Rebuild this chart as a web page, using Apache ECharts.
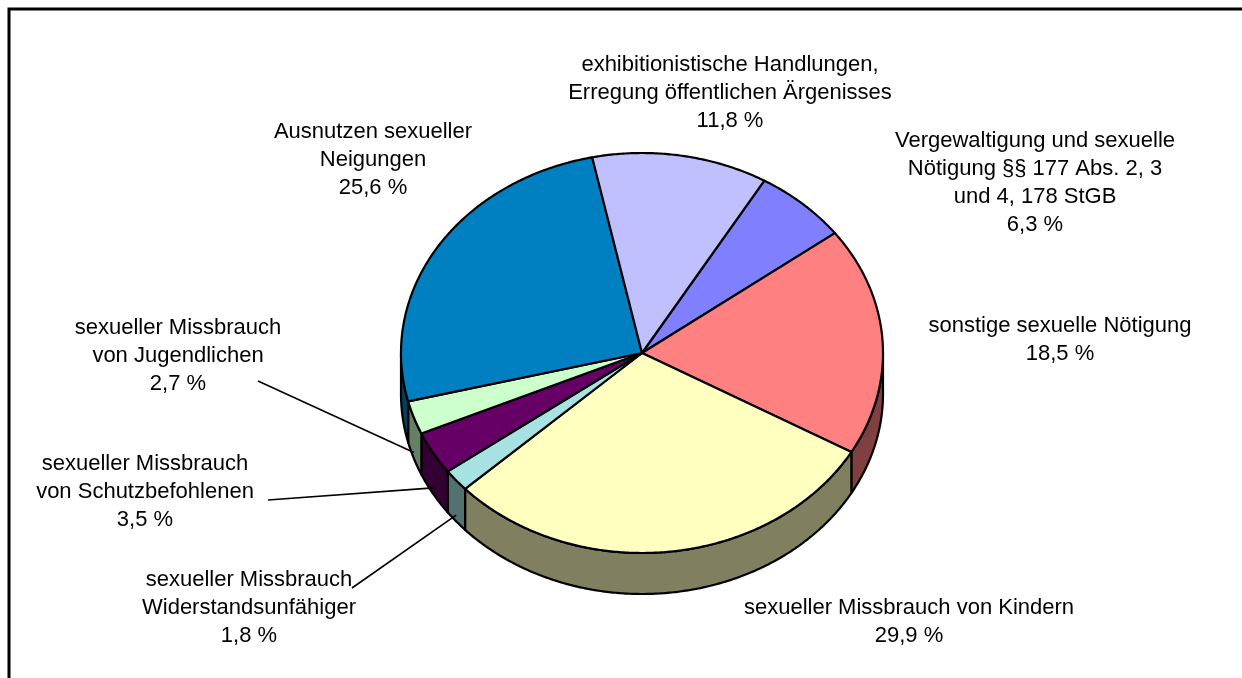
<!DOCTYPE html>
<html>
<head>
<meta charset="utf-8">
<script src="https://cdn.jsdelivr.net/npm/echarts@6/dist/echarts.min.js"></script>
<style>
  html, body { margin: 0; padding: 0; background: #fff; }
  #chart { width: 1242px; height: 678px; }
</style>
</head>
<body>
<div id="chart"></div>
<script>
  // categories in slice order (clockwise, starting at the Vergewaltigung slice)
  const categories = [
    "Vergewaltigung und sexuelle\nNötigung §§ 177 Abs. 2, 3\nund 4, 178 StGB",
    "sonstige sexuelle Nötigung",
    "sexueller Missbrauch von Kindern",
    "sexueller Missbrauch\nWiderstandsunfähiger",
    "sexueller Missbrauch\nvon Schutzbefohlenen",
    "sexueller Missbrauch\nvon Jugendlichen",
    "Ausnutzen sexueller\nNeigungen",
    "exhibitionistische Handlungen,\nErregung öffentlichen Ärgenisses"
  ];
  const shares = [6.3, 18.5, 29.9, 1.8, 3.5, 2.7, 25.6, 11.8];

  const topColors = ["#8080ff", "#ff8080", "#ffffc0", "#a6e2e2", "#660066", "#ccffcc", "#0080c0", "#c0c0ff"];
  const sideColors = ["#404080", "#804040", "#808060", "#537171", "#330033", "#668066", "#004060", "#606080"];

  // label layout: centre x and first line centre y, plus leader line start (or null)
  const labelPos = [
    [1035, 141], [1060, 326], [909, 608], [249, 580],
    [145, 464], [178, 328], [373, 132], [730, 65]
  ];
  const leaderFrom = [null, null, null, [352, 588], [268, 500], [258, 381], null, null];

  const cx = 642, cy = 353, rx = 241, ry = 200, depth = 41;
  const startAngle = 30.5; // degrees, clockwise from 12 o'clock
  const lineH = 28;
  const font = "Liberation Sans, Arial, sans-serif";

  const total = shares.reduce((a, b) => a + b, 0);
  const starts = [];
  shares.reduce((acc, v, i) => { starts[i] = acc; return acc + v / total * 360; }, startAngle);

  function pt(a, dy) {
    const r = a * Math.PI / 180;
    return [cx + rx * Math.sin(r), cy - ry * Math.cos(r) + (dy || 0)];
  }
  function arc(a0, a1, dy) {
    const pts = [];
    const n = Math.max(2, Math.ceil(Math.abs(a1 - a0) / 0.5));
    for (let k = 0; k <= n; k++) pts.push(pt(a0 + (a1 - a0) * k / n, dy));
    return pts;
  }

  function renderItem(params, api) {
    const i = params.dataIndex;
    const v = api.value(0);
    const a0 = starts[i];
    const a1 = a0 + v / total * 360;
    const children = [];

    // visible side wall (front half: 90..270 deg)
    const s = Math.max(a0, 90), e = Math.min(a1, 270);
    if (e > s) {
      const pts = arc(s, e, 0).concat(arc(e, s, depth));
      children.push({
        type: "polygon", z2: 1,
        shape: { points: pts },
        style: { fill: sideColors[i], stroke: "#000", lineWidth: 2.2, lineJoin: "round" }
      });
    }

    // top face
    children.push({
      type: "polygon", z2: 10,
      shape: { points: [[cx, cy]].concat(arc(a0, a1, 0)) },
      style: { fill: topColors[i], stroke: "#000", lineWidth: 2.2, lineJoin: "round" }
    });

    // label
    const txt = categories[i] + "\n" + v.toFixed(1).replace(".", ",") + " %";
    children.push({
      type: "text", z2: 20,
      x: labelPos[i][0], y: labelPos[i][1] - lineH / 2,
      style: {
        text: txt, fill: "#000", fontSize: 22, fontFamily: font,
        align: "center", verticalAlign: "top", lineHeight: lineH
      }
    });

    // leader line
    if (leaderFrom[i]) {
      const end = pt((a0 + a1) / 2, depth * 0.85);
      children.push({
        type: "line", z2: 20,
        shape: { x1: leaderFrom[i][0], y1: leaderFrom[i][1], x2: end[0], y2: end[1] },
        style: { stroke: "#000", lineWidth: 1.6 }
      });
    }
    return { type: "group", children: children };
  }

  const chart = echarts.init(document.getElementById("chart"));
  chart.setOption({
    backgroundColor: "#fff",
    animation: false,
    graphic: [{
      type: "rect",
      shape: { x: 9, y: 9, width: 1400, height: 900 },
      style: { fill: "none", stroke: "#000", lineWidth: 3 }
    }],
    series: [{
      type: "custom",
      coordinateSystem: "none",
      renderItem: renderItem,
      data: shares.map(v => [v])
    }]
  });
</script>
</body>
</html>
